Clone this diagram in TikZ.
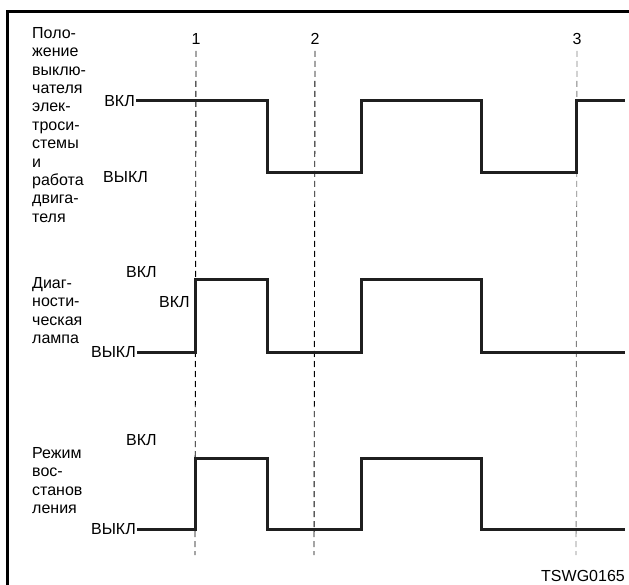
\documentclass[tikz,border=0pt]{standalone}
\usepackage{fontspec}
\setmainfont{Liberation Sans}
\begin{document}
\begin{tikzpicture}[x=1pt,y=-1pt,
  txt/.style={inner sep=0pt, font=\fontsize{16}{18.4}\selectfont},
  block/.style={txt, anchor=north west, align=left},
  lvl/.style={txt, anchor=east},
  signal/.style={line width=3pt, draw=black!88, line join=miter},
  guide/.style={line width=0.9pt, dash pattern=on 6pt off 4pt},
  frameline/.style={line width=3pt}]
\useasboundingbox (0,0) rectangle (629,585);

% frame
\draw[frameline] (7,585) -- (7,12) -- (629,12);

% channel names
\node[block] (nm1) at (32,27) {Поло-\\жение\\выклю-\\чателя\\элек-\\троси-\\стемы\\и\\работа\\двига-\\теля};
\node[block] (nm2) at (32,277) {Диаг-\\ности-\\ческая\\лампа};
\node[block] (nm3) at (32,447) {Режим\\вос-\\станов\\ления};

% level labels
\node[lvl] (on1)  at (135,101) {ВКЛ};
\node[lvl, anchor=west] (off1) at (103,177) {ВЫКЛ};
\node[lvl, anchor=west] (on2a) at (126,272) {ВКЛ};
\node[lvl, anchor=west] (on2b) at (159,302) {ВКЛ};
\node[lvl] (off2) at (136,352) {ВЫКЛ};
\node[lvl, anchor=west] (on3) at (126,440) {ВКЛ};
\node[lvl] (off3) at (136,529) {ВЫКЛ};

% time markers
\node[txt] (m1) at (196,39) {1};
\node[txt] (m2) at (315,39) {2};
\node[txt] (m3) at (577,39) {3};
\coordinate (e1) at (195,555);
\coordinate (e2) at (314,555);
\coordinate (e3) at (576,555);
\draw[guide] (m1.south |- 0,51) -- (e1);
\draw[guide] (m2.south |- 0,51) -- (e2);
\draw[guide, draw=black!50] (m3.south |- 0,51) -- (e3);

% switch position / engine
\draw[signal] (on1.east) ++(1,0) -- (267,101) -- (267,173) -- (361,173)
  -- (361,101) -- (481,101) -- (481,173) -- (576,173) -- (576,101) -- (625,101);

% diagnostic lamp
\draw[signal] (off2.east) ++(1,0) -- (195,352) -- (195,280) -- (267,280)
  -- (267,352) -- (361,352) -- (361,280) -- (481,280) -- (481,352) -- (625,352);

% recovery mode
\draw[signal] (off3.east) ++(1,0) -- (195,529) -- (195,458) -- (267,458)
  -- (267,529) -- (361,529) -- (361,458) -- (481,458) -- (481,529) -- (625,529);

\node[txt, anchor=east] (code) at (625,576) {TSWG0165};
\end{tikzpicture}
\end{document}
